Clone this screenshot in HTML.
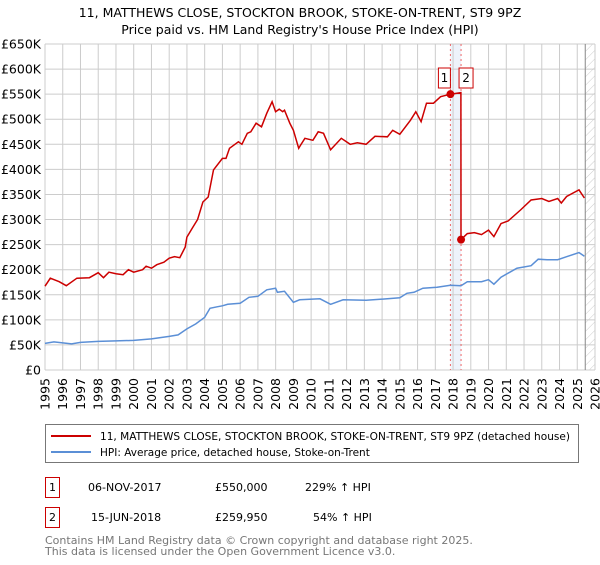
<!DOCTYPE html>
<html><head><meta charset="utf-8"><style>
body{margin:0;background:#fff;}
svg text{font-family:"DejaVu Sans","Liberation Sans",sans-serif;}
</style></head><body>
<svg id="c" width="600" height="560" viewBox="0 0 600 560" xmlns="http://www.w3.org/2000/svg">
<defs><pattern id="hatch" width="6" height="6" patternUnits="userSpaceOnUse" patternTransform="rotate(45)"><line x1="0" y1="0" x2="0" y2="6" stroke="#ccc" stroke-width="1"/></pattern></defs>
<text x="300" y="17" text-anchor="middle" font-size="12.5" fill="#000">11, MATTHEWS CLOSE, STOCKTON BROOK, STOKE-ON-TRENT, ST9 9PZ</text>
<text x="300" y="34" text-anchor="middle" font-size="12.5" fill="#000">Price paid vs. HM Land Registry's House Price Index (HPI)</text>
<g id="grid"></g><g id="marks"></g><g id="axes"></g>
<g>
<rect x="45.5" y="424.5" width="533" height="38" fill="#fff" stroke="#777"/>
<line x1="51" y1="436" x2="91" y2="436" stroke="#cc0000" stroke-width="2"/>
<text x="100" y="440" font-size="10.5" textLength="470" lengthAdjust="spacingAndGlyphs">11, MATTHEWS CLOSE, STOCKTON BROOK, STOKE-ON-TRENT, ST9 9PZ (detached house)</text>
<line x1="51" y1="452" x2="91" y2="452" stroke="#5b8fd6" stroke-width="2"/>
<text x="100" y="456" font-size="10.5">HPI: Average price, detached house, Stoke-on-Trent</text>
</g>
<g font-size="11">
<rect x="45.5" y="477.5" width="14" height="20" fill="#fff" stroke="#cc0000"/>
<text x="52.5" y="491" text-anchor="middle">1</text>
<text x="88" y="491">06-NOV-2017</text>
<text x="215" y="491">£550,000</text>
<text x="305" y="491">229% ↑ HPI</text>
<rect x="45.5" y="507.5" width="14" height="20" fill="#fff" stroke="#cc0000"/>
<text x="52.5" y="521" text-anchor="middle">2</text>
<text x="91" y="521">15-JUN-2018</text>
<text x="215" y="521">£259,950</text>
<text x="313" y="521">54% ↑ HPI</text>
</g>
<text x="45" y="544" font-size="11" fill="#777">Contains HM Land Registry data © Crown copyright and database right 2025.</text>
<text x="45" y="555" font-size="11" fill="#777">This data is licensed under the Open Government Licence v3.0.</text>
</svg>
<script>
const years=[1995,1996,1997,1998,1999,2000,2001,2002,2003,2004,2005,2006,2007,2008,2009,2010,2011,2012,2013,2014,2015,2016,2017,2018,2019,2020,2021,2022,2023,2024,2025,2026];
const yTicks=[0,50,100,150,200,250,300,350,400,450,500,550,600,650];
const yTickLabels=["£0","£50K","£100K","£150K","£200K","£250K","£300K","£350K","£400K","£450K","£500K","£550K","£600K","£650K"];
const redT=[1995.0,1995.3,1995.8,1996.2,1996.8,1997.5,1998.0,1998.3,1998.6,1999.0,1999.4,1999.7,2000.0,2000.5,2000.7,2001.0,2001.3,2001.7,2002.0,2002.3,2002.6,2002.9,2003.0,2003.3,2003.6,2003.9,2004.2,2004.5,2005.0,2005.2,2005.4,2005.9,2006.1,2006.4,2006.6,2006.9,2007.2,2007.5,2007.8,2008.0,2008.2,2008.4,2008.5,2008.8,2009.0,2009.3,2009.4,2009.65,2010.1,2010.4,2010.7,2011.1,2011.7,2012.2,2012.6,2013.1,2013.6,2014.3,2014.6,2015.0,2015.6,2015.9,2016.2,2016.5,2016.9,2017.3,2017.85,2018.44,2018.45,2018.8,2019.2,2019.6,2020.0,2020.3,2020.7,2021.1,2021.8,2022.4,2023.0,2023.4,2023.9,2024.1,2024.4,2025.1,2025.4];
const redV=[167,183,176,168,183,184,194,184,195,192,190,200,195,200,207,203,210,215,223,226,224,245,265,283,300,335,345,399,422,422,442,455,450,472,475,492,485,512,535,515,520,515,518,492,478,442,448,462,458,475,472,439,462,450,453,450,466,465,478,470,498,515,495,532,532,545,550,553,260,272,274,270,279,266,292,297,319,339,342,336,342,333,346,359,343];
const blueT=[1995.0,1995.5,1996.0,1996.5,1997.0,1998.0,1999.0,2000.0,2001.0,2002.0,2002.5,2003.0,2003.5,2004.0,2004.3,2004.7,2005.0,2005.3,2006.0,2006.5,2007.0,2007.5,2008.0,2008.1,2008.5,2009.0,2009.35,2010.5,2011.1,2011.8,2013.1,2014.3,2015.0,2015.4,2015.8,2016.3,2017.1,2017.85,2018.45,2018.8,2019.6,2020.0,2020.3,2020.7,2021.6,2022.4,2022.8,2023.3,2023.9,2024.4,2025.1,2025.4];
const blueV=[53,56,54,52,55,57,58,59,62,67,70,82,92,105,123,126,128,131,133,145,147,160,163,155,157,135,140,142,131,140,139,142,144,153,155,163,165,169,168,176,176,180,171,185,203,208,221,220,220,226,234,227];
const sales=[{t:2017.85,v:550,n:"1"},{t:2018.45,v:259.95,n:"2"}];
const X0=45,X1=595,Y0=370,Y1=44;
const x=t=>X0+(t-1995)/(2026-1995)*(X1-X0);
const y=v=>Y0-v/650*(Y0-Y1);
const NS="http://www.w3.org/2000/svg";
function mk(tag,parent,attrs){const e=document.createElementNS(NS,tag);for(const k in attrs)e.setAttribute(k,attrs[k]);parent.appendChild(e);return e;}
const grid=document.getElementById('grid'),marks=document.getElementById('marks'),axes=document.getElementById('axes');
let hb=mk('rect',grid,{x:x(2025.45),y:Y1,width:X1-x(2025.45),height:Y0-Y1,fill:'url(#hatch)'});


let band=mk('rect',grid,{x:x(sales[0].t),y:Y1,width:x(sales[1].t)-x(sales[0].t),height:Y0-Y1,fill:'#eef3fb'});


years.forEach(yr=>{
 let l=mk('line',grid,{x1:x(yr),x2:x(yr),y1:Y1,y2:Y0,stroke:'#cccccc','stroke-width':1});
 
 
 let tx=mk('text',axes,{transform:`translate(${x(yr)+4.5},378) rotate(-90)`,'text-anchor':'end','font-size':12.5,fill:'#000'});
 tx.textContent=yr;
 
 
});
yTicks.forEach((v,i)=>{
 let l=mk('line',grid,{x1:X0,x2:X1,y1:y(v),y2:y(v),stroke:'#cccccc','stroke-width':1});
 
 
 let tx=mk('text',axes,{x:41,y:y(v)+4.5,'text-anchor':'end','font-size':12.5,fill:'#000'});
 tx.textContent=yTickLabels[i];
 
 
});
let ev=mk('line',grid,{x1:x(2025.45),x2:x(2025.45),y1:Y1,y2:Y0,stroke:'#888','stroke-width':1});


sales.forEach(s=>{
 let l=mk('line',grid,{x1:x(s.t),x2:x(s.t),y1:Y1,y2:Y0,stroke:'#ee6666','stroke-width':1,'stroke-dasharray':'2,3'});
 
 
});
const path=(T,V)=>T.map((t,i)=>(i?'L':'M')+x(t).toFixed(1)+','+y(V[i]).toFixed(1)).join('');
let bl=mk('path',marks,{d:path(blueT,blueV),fill:'none',stroke:'#5b8fd6','stroke-width':1.5});


let rl=mk('path',marks,{d:path(redT,redV),fill:'none',stroke:'#cc0000','stroke-width':1.5});


sales.forEach((s,i)=>{
 let c=mk('circle',marks,{cx:x(s.t),cy:y(s.v),r:4,fill:'#cc0000'});
 
 
 const bx=i===0?x(s.t)-12:x(s.t)-2;
 let r=mk('rect',marks,{x:bx,y:68,width:i===0?12:14,height:20,fill:'#fff',stroke:'#cc0000'});
 
 
 let t=mk('text',marks,{x:bx+(i===0?6:7),y:82,'text-anchor':'middle','font-size':12,fill:'#000'});
 t.textContent=s.n;
 
 
});
</script>
</body></html>
